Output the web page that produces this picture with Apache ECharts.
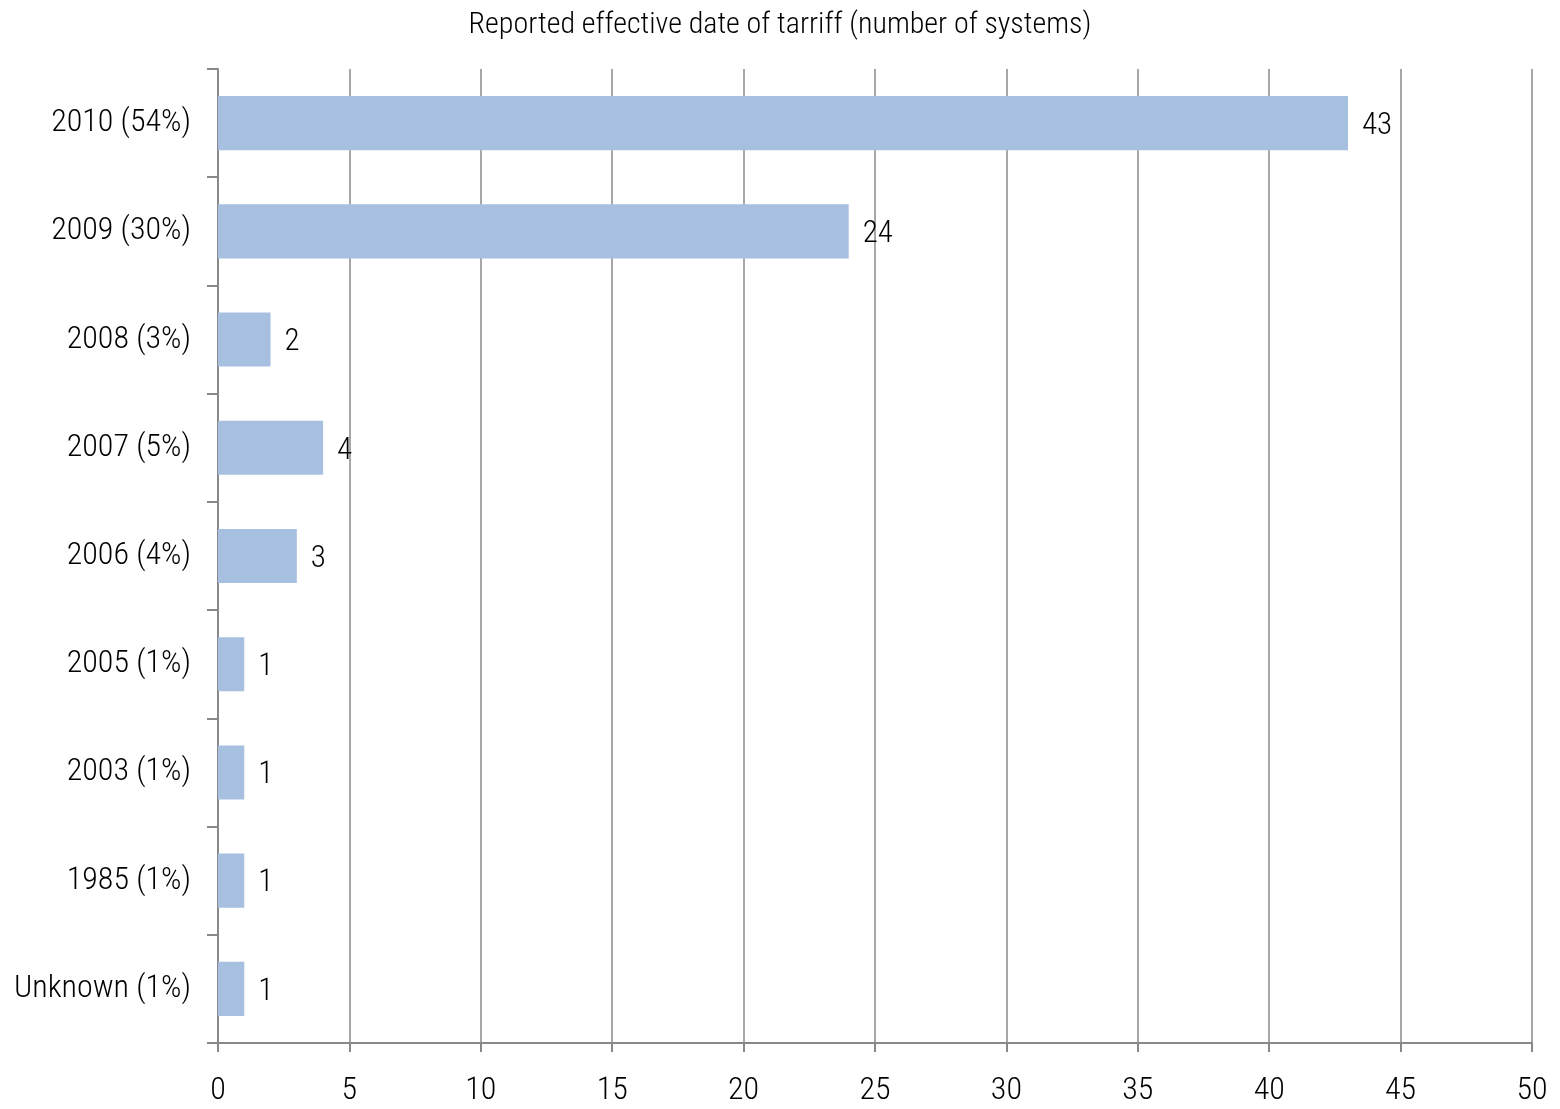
<!DOCTYPE html>
<html><head><meta charset="utf-8">
<script src="https://cdn.jsdelivr.net/npm/echarts@6/dist/echarts.min.js"></script>
<style>html,body{margin:0;padding:0;background:#fff}#c{width:1560px;height:1109px}</style>
</head><body><div id="c"></div>
<script>
const categories = ['2010 (54%)','2009 (30%)','2008 (3%)','2007 (5%)','2006 (4%)','2005 (1%)','2003 (1%)','1985 (1%)','Unknown (1%)'];
const values = [43,24,2,4,3,1,1,1,1];
const xMin = 0, xMax = 50, xStep = 5;
const titleText = 'Reported effective date of tarriff (number of systems)';

const FONT = '"Roboto Condensed", "Liberation Sans Narrow", sans-serif';
const FW = 300;
const chart = echarts.init(document.getElementById('c'), null, {renderer:'canvas'});
const gridPos = {left:218, right:28, top:69, bottom:66};
chart.setOption({
  animation:false,
  textStyle:{fontFamily:FONT, fontWeight:FW},
  title:{text:titleText, left:'center', top:5, textStyle:{fontFamily:FONT, fontSize:30, fontWeight:FW, color:'#000'}},
  grid:[Object.assign({}, gridPos), Object.assign({z:10}, gridPos)],
  xAxis:[{
    type:'value', gridIndex:0, min:xMin, max:xMax, interval:xStep,
    axisLine:{show:true, lineStyle:{color:'#888', width:2}},
    axisTick:{show:true, length:9, lineStyle:{color:'#888', width:2}},
    axisLabel:{fontFamily:FONT, fontWeight:FW, fontSize:32, color:'#000', margin:32}
  ,
    splitLine:{show:false}
  },{
    type:'value', gridIndex:1, min:xMin, max:xMax, interval:xStep,
    axisLine:{show:false}, axisTick:{show:false}, axisLabel:{show:false},
    splitLine:{show:true, lineStyle:{color:'#8a8a8a', width:1.5}}
  }],
  yAxis:[{
    type:'category', gridIndex:0, data:categories, inverse:true,
    axisLine:{show:true, lineStyle:{color:'#888', width:2}},
    axisTick:{show:true, length:11, lineStyle:{color:'#888', width:2}},
    axisLabel:{fontFamily:FONT, fontWeight:FW, fontSize:32, color:'#000', margin:27}
  },{
    type:'category', gridIndex:1, data:categories, inverse:true, show:false
  }],
  series:[{
    type:'bar', xAxisIndex:0, yAxisIndex:0, data:values,
    barCategoryGap:'50%',
    itemStyle:{color:'#A8C0DF'},
    label:{show:true, position:'right', distance:14, offset:[0,3], fontFamily:FONT, fontWeight:FW, fontSize:31, color:'#000'}
  }]
});
</script></body></html>
